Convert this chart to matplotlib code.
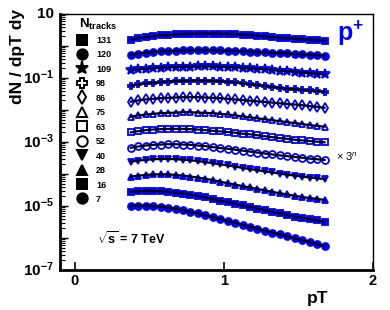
import numpy as np
import matplotlib.pyplot as plt
from matplotlib.ticker import LogLocator, NullLocator, FixedLocator

plt.rcParams['font.family'] = ['Liberation Sans', 'DejaVu Sans']
plt.rcParams['mathtext.fontset'] = 'custom'
plt.rcParams['mathtext.rm'] = 'Liberation Sans'
plt.rcParams['mathtext.bf'] = 'Liberation Sans:bold'
plt.rcParams['mathtext.it'] = 'Liberation Sans:italic'

# pT bins (bin centres)
pt = np.arange(0.375, 1.70, 0.05)

# N_tracks classes, top to bottom
ntracks = ['131', '120', '109', '98', '86', '75', '63', '52', '40', '28', '16', '7']

# log10(dN/dpT dy x 3^n)
lg131 = [0.20, 0.25, 0.28, 0.31, 0.33, 0.34, 0.36, 0.37, 0.38, 0.38, 0.39, 0.39, 0.38, 0.38,
         0.37, 0.35, 0.33, 0.32, 0.30, 0.28, 0.26, 0.24, 0.23, 0.21, 0.20, 0.18, 0.17]
lg120 = [-0.28, -0.24, -0.21, -0.19, -0.17, -0.16, -0.15, -0.14, -0.13, -0.13, -0.13, -0.13, -0.14, -0.15,
         -0.16, -0.17, -0.18, -0.19, -0.20, -0.21, -0.22, -0.23, -0.25, -0.26, -0.27, -0.29, -0.30]
lg109 = [-0.76, -0.73, -0.71, -0.69, -0.68, -0.67, -0.66, -0.65, -0.65, -0.64, -0.64, -0.64, -0.65, -0.66,
         -0.67, -0.68, -0.70, -0.71, -0.73, -0.75, -0.77, -0.79, -0.81, -0.83, -0.85, -0.87, -0.89]
lg98 = [-1.24, -1.20, -1.17, -1.15, -1.13, -1.11, -1.10, -1.09, -1.08, -1.08, -1.08, -1.09, -1.10, -1.12,
        -1.14, -1.17, -1.20, -1.22, -1.25, -1.28, -1.31, -1.33, -1.35, -1.37, -1.39, -1.41, -1.43]
lg86 = [-1.74, -1.70, -1.67, -1.65, -1.63, -1.62, -1.61, -1.60, -1.60, -1.60, -1.61, -1.62, -1.63, -1.65,
        -1.67, -1.69, -1.71, -1.73, -1.75, -1.77, -1.79, -1.81, -1.83, -1.85, -1.88, -1.90, -1.93]
lg75 = [-2.21, -2.17, -2.14, -2.12, -2.10, -2.09, -2.08, -2.07, -2.07, -2.08, -2.09, -2.10, -2.12, -2.14,
        -2.17, -2.20, -2.23, -2.26, -2.29, -2.32, -2.35, -2.38, -2.41, -2.44, -2.47, -2.50, -2.52]
lg63 = [-2.70, -2.66, -2.63, -2.61, -2.60, -2.59, -2.59, -2.59, -2.60, -2.61, -2.63, -2.65, -2.67, -2.69,
        -2.71, -2.74, -2.76, -2.79, -2.82, -2.85, -2.88, -2.90, -2.93, -2.95, -2.97, -2.99, -3.01]
lg52 = [-3.18, -3.14, -3.11, -3.09, -3.08, -3.07, -3.07, -3.08, -3.09, -3.11, -3.13, -3.16, -3.19, -3.21,
        -3.24, -3.27, -3.30, -3.33, -3.36, -3.39, -3.42, -3.44, -3.47, -3.49, -3.52, -3.54, -3.56]
lg40 = [-3.62, -3.58, -3.56, -3.54, -3.53, -3.53, -3.54, -3.55, -3.57, -3.60, -3.63, -3.66, -3.70, -3.73,
        -3.77, -3.81, -3.85, -3.88, -3.92, -3.95, -3.99, -4.02, -4.05, -4.08, -4.11, -4.13, -4.16]
lg28 = [-4.08, -4.05, -4.03, -4.01, -4.01, -4.01, -4.03, -4.05, -4.08, -4.11, -4.15, -4.19, -4.24, -4.29,
        -4.33, -4.38, -4.42, -4.47, -4.51, -4.56, -4.60, -4.64, -4.68, -4.72, -4.75, -4.78, -4.81]
lg16 = [-4.56, -4.54, -4.53, -4.53, -4.54, -4.56, -4.58, -4.61, -4.65, -4.69, -4.73, -4.78, -4.83, -4.88,
        -4.93, -4.98, -5.03, -5.08, -5.13, -5.18, -5.23, -5.28, -5.33, -5.37, -5.41, -5.45, -5.49]
lg7 = [-5.00, -4.99, -4.99, -5.00, -5.02, -5.05, -5.09, -5.13, -5.18, -5.23, -5.29, -5.35, -5.41, -5.47,
       -5.53, -5.59, -5.65, -5.71, -5.77, -5.83, -5.89, -5.95, -6.01, -6.07, -6.13, -6.19, -6.25]

series = [lg131, lg120, lg109, lg98, lg86, lg75, lg63, lg52, lg40, lg28, lg16, lg7]

# marker style per class: (marker, filled)
styles = [('s', True), ('o', True), ('*', True), ('P', False), ('d', False), ('^', False),
          ('s', False), ('o', False), ('v', True), ('^', True), ('s', True), ('o', True)]

blue = '#0000ff'

fig = plt.figure(figsize=(3.9, 3.1), dpi=100)
ax = fig.add_axes([60/390, 40/310, 313/390, 256/310])

for lg, (mk, filled) in zip(series, styles):
    y = np.power(10.0, lg)
    ms = 7 if mk == '*' else 5
    ax.plot(pt, y, ls='none', marker=mk, ms=ms, color=blue,
            mfc=blue if filled else 'white', mec=blue, mew=1.3, zorder=2)
    ax.plot(pt, y, color='black', lw=1.6, zorder=3)

ax.set_yscale('log')
ax.set_xlim(-0.1, 2.0)
ax.set_ylim(1e-7, 10)

ax.xaxis.set_major_locator(FixedLocator([0, 1, 2]))
ax.xaxis.set_minor_locator(NullLocator())
ax.set_xticklabels(['0', '1', '2'], fontsize=10.5, fontweight='bold')

ax.yaxis.set_major_locator(LogLocator(base=10, numticks=20))
ax.yaxis.set_minor_locator(LogLocator(base=10, subs=np.arange(2, 10), numticks=20))
ylab_pos = [1e1, 1e-1, 1e-3, 1e-5, 1e-7]
ylab_txt = ['10', r'$\mathbf{10^{-1}}$', r'$\mathbf{10^{-3}}$', r'$\mathbf{10^{-5}}$', r'$\mathbf{10^{-7}}$']
ax.yaxis.set_major_formatter(plt.NullFormatter())
ax.yaxis.set_minor_formatter(plt.NullFormatter())
for v, t in zip(ylab_pos, ylab_txt):
    ax.text(-0.02, v, t, transform=ax.get_yaxis_transform(), ha='right', va='center',
            fontsize=11, fontweight='bold')

ax.tick_params(axis='both', which='both', direction='in', top=False, right=False)
ax.tick_params(axis='y', which='major', length=6, width=1)
ax.tick_params(axis='y', which='minor', length=3.5, width=0.8)
ax.tick_params(axis='x', which='major', length=6, width=1.2, pad=3)

for s in ['left', 'bottom']:
    ax.spines[s].set_linewidth(2)
for s in ['top', 'right']:
    ax.spines[s].set_linewidth(1)

# axis titles
fig.text(18/390, 1 - 9/310, 'dN / dpT dy', rotation=90, ha='center', va='top',
         fontsize=12.5, fontweight='bold')
fig.text(318/390, 1 - 299/310, 'pT', ha='center', va='center', fontsize=12.5, fontweight='bold')

# legend drawn by hand
fig.text(79/390, 1 - 24/310, r'$\mathbf{N_{tracks}}$', ha='left', va='center', fontsize=9.5)
for i, (lab, (mk, filled)) in enumerate(zip(ntracks, styles)):
    ypx = 39.5 + i * 14.45
    ms = 9.5 if mk == '*' else 7.5
    fig.lines.append(plt.Line2D([82/390], [1 - ypx/310], transform=fig.transFigure,
                                marker=mk, ms=ms, color='black', mfc='black' if filled else 'white',
                                mec='black', mew=1.4, ls='none'))
    fig.text(96/390, 1 - (ypx + 1)/310, lab, ha='left', va='center', fontsize=6.5, fontweight='bold')

fig.text(337/390, 1 - 33/310, r'$\mathbf{p^{+}}$', ha='left', va='center', fontsize=18, color=blue)
fig.text(336/390, 1 - 157/310, r'$\times$ 3$^{n}$', ha='left', va='center', fontsize=8)
fig.text(97/390, 1 - 239/310, r'$\mathbf{\sqrt{s}}$ = 7 TeV', ha='left', va='center',
         fontsize=9, fontweight='bold')

fig.savefig('out.png', dpi=100)
